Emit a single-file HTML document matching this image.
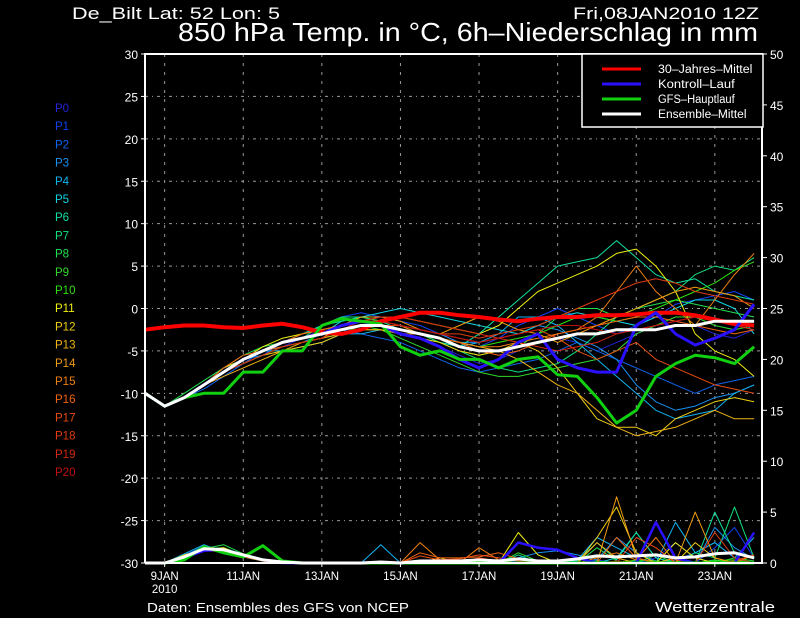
<!DOCTYPE html>
<html><head><meta charset="utf-8"><style>
html,body{margin:0;padding:0;background:#000;width:800px;height:618px;overflow:hidden}
svg{display:block}
text{font-family:"Liberation Sans",sans-serif}
</style></head><body>
<svg id="chart" width="800" height="618" viewBox="0 0 800 618" xmlns="http://www.w3.org/2000/svg">
<rect width="800" height="618" fill="#000"/>
<text x="72" y="19" font-size="17" fill="#fff" textLength="208" lengthAdjust="spacingAndGlyphs">De_Bilt   Lat: 52 Lon: 5</text>
<text x="573" y="19" font-size="17" fill="#fff" textLength="186" lengthAdjust="spacingAndGlyphs">Fri,08JAN2010 12Z</text>
<text x="178" y="41" font-size="26" fill="#fff" textLength="580" lengthAdjust="spacingAndGlyphs">850 hPa Temp. in °C, 6h–Niederschlag in mm</text>
<text x="147" y="612" font-size="13" fill="#fff" textLength="262" lengthAdjust="spacingAndGlyphs">Daten: Ensembles des GFS von NCEP</text>
<text x="655" y="612" font-size="15" fill="#fff" textLength="120" lengthAdjust="spacingAndGlyphs">Wetterzentrale</text>
<g id="grid"></g><g id="prec"></g><g id="temps"></g><g id="axes"></g><g id="legend"></g>
</svg>
<script>
const dayLabels=["9JAN","11JAN","13JAN","15JAN","17JAN","19JAN","21JAN","23JAN"];
const tempTicks=[-30,-25,-20,-15,-10,-5,0,5,10,15,20,25,30];
const precTicks=[0,5,10,15,20,25,30,35,40,45,50];
const memberNames=["P0","P1","P2","P3","P4","P5","P6","P7","P8","P9","P10","P11","P12","P13","P14","P15","P16","P17","P18","P19","P20"];
const memberColors=["#2222d8","#1040f0","#1064ec","#1890f0","#10b4f0","#10d4e0","#10e0a0","#10e080","#20e050","#30d830","#30e010","#f0f010","#f0d010","#f0b414","#f09c10","#f08010","#f06410","#e84c10","#e03c10","#d42810","#c01010"];
const climate=[-2.5,-2.2,-2,-2,-2.2,-2.3,-2,-1.8,-2.2,-2.8,-3,-2.5,-1.5,-1,-0.5,-0.5,-0.8,-1,-1.3,-1.5,-1.2,-1,-1,-0.8,-0.8,-0.7,-0.5,-0.5,-0.8,-1.3,-1.8,-2];
const control=[-10,-11.5,-10.5,-9,-7.5,-6,-5,-4,-3.5,-3,-2,-1.5,-2,-3,-3.5,-4.5,-6,-7,-6,-4,-3,-6,-7,-7.5,-7.5,-2,-0.5,-3,-4.3,-3.5,-2.5,0.5];
const mainRun=[-10,-11.5,-10.5,-10,-10,-7.5,-7.5,-5,-5,-2,-1.2,-1.5,-1.8,-4.5,-5.5,-5,-6,-6,-7,-6,-5.7,-7.8,-8,-10.5,-13.5,-12,-8,-6.5,-5.5,-5.8,-6.5,-4.5];
const ensMean=[-10,-11.5,-10.5,-9,-7.5,-6,-5,-4,-3.5,-3,-2.5,-2,-2,-2.5,-3,-3.5,-4.5,-5,-5,-4.5,-4,-3.5,-3,-3,-2.5,-2.5,-2.5,-2,-2,-1.5,-1.5,-1.5];
const members=[
[-10,-11.5,-10.5,-9,-7,-6,-5,-4.5,-3.5,-2.5,-2,-1.5,-2,-3,-3.5,-4.5,-5.5,-6.5,-6,-5,-4,-3.5,-4,-5,-4,-3,-2,-1.5,-2,-3,-3.5,-2.5],
[-10,-11.5,-10.5,-9,-7.5,-6.5,-5.5,-4,-3,-2,-1,-0.5,-1,-1.5,-2,-3,-4,-4.5,-3.5,-2,-1,0,-1,-2,-3,-2,-1,0.5,1,1.5,2,1],
[-10,-11.5,-10.5,-9.5,-8,-6.5,-5,-4,-3.5,-3,-2.5,-3,-3.5,-4,-5,-6,-7,-7.5,-7,-6.5,-6,-5,-4,-5,-6,-7,-8,-9,-10,-9,-8.5,-8],
[-10,-11.5,-10.5,-9,-7.5,-6,-5.5,-4.5,-4,-3,-2,-1.5,-1.5,-2,-2.5,-3,-4,-4,-3.5,-3,-2,-2.5,-3.5,-4.5,-6,-9,-11,-12,-11.5,-10.5,-10,-9],
[-10,-11.5,-10.5,-9,-7.5,-6,-5,-5,-4.5,-4,-3,-3,-2.5,-3,-3.5,-4,-4.5,-4,-3,-1,-1,-2,-4,-6,-8,-10,-12,-13,-12.5,-12,-10,-9],
[-10,-11.5,-10.5,-9,-7,-6,-5,-4,-3.5,-3,-1.5,-1,-0.5,0,-0.5,-1,-1.5,-2,-2.5,-3,-2,-1,-0.5,-1,-1.5,-2,-1,0,1,1,0,-3],
[-10,-11.5,-10.5,-9,-7.5,-6,-5,-4,-3,-2,-1.5,-1,-1.5,-2.5,-3,-4,-4.5,-3,-1,1,3,5,5.5,6,8,6,4,3,3.5,2,1.5,1],
[-10,-11.5,-10.5,-9,-7,-6,-5,-4,-3.5,-2,-1,-1,-1.5,-2,-3,-4,-5,-6,-7,-7.5,-7,-6.5,-5,-3,-1,0,1,2,4,5,4.5,6],
[-10,-11.5,-10,-8.5,-7,-5.5,-4.5,-4,-3,-2.5,-2,-1,-1.5,-2,-3,-4,-5,-5.5,-5,-4.5,-3,-1,0,0,-1,0,0.5,1,0.5,0,-0.5,-1],
[-10,-11.5,-10.5,-9,-7.5,-6.5,-5.5,-4.5,-4,-3.5,-3,-2,-2.5,-3.5,-4.5,-5.5,-6.5,-7.5,-8,-8,-7.5,-7,-6.5,-6,-5,-3,-2,-1,-1,-2,-2.5,-2],
[-10,-11.5,-10.5,-9,-7.5,-6,-5,-4,-3.5,-3,-2.5,-2,-2,-2.5,-3,-3.5,-4,-4.5,-4,-3.5,-3,-2,-1,-1,-1.5,-1,0,1,2,3,4.5,5.5],
[-10,-11.5,-10.5,-9,-7,-6,-4.5,-3.5,-3,-2.5,-2,-1.5,-1,-1,-1.5,-2,-2.5,-3,-2,0,2,3,4,5,6.5,7,5,2,-3,-5,-6,-8],
[-10,-11.5,-10.5,-9,-7.5,-6.5,-5.5,-5,-4.5,-4,-3,-2.5,-2.5,-3,-3.5,-4,-5,-5.5,-5,-4,-5,-7,-10,-13,-14,-14,-15,-13,-12,-11,-10.5,-11],
[-10,-11.5,-10.5,-9,-8,-7,-6,-5,-4,-3.5,-3,-2.5,-2.5,-3,-3,-3.5,-4,-4.5,-5,-6,-7.5,-9,-10,-12,-14,-15,-14.5,-14,-13,-12,-13,-13],
[-10,-11.5,-10.5,-9,-7.5,-6,-5,-4,-3,-2.5,-2,-1,-1,-1.5,-2.5,-3,-2,-1,-1.5,-2.5,-3,-4,-3,-2,-1,0,1,2,2.5,2,1.5,0],
[-10,-11.5,-10.5,-9,-7.5,-6,-5,-4.5,-4,-3.5,-2,-1.5,-1.5,-2,-3,-3.5,-4,-4.5,-4.5,-4,-3.5,-3,-2.5,-1,2,5,2,0,-2,1,4,6.5],
[-10,-11.5,-10.5,-9,-7,-5.5,-5,-4,-3,-2.5,-2,-1.5,-2,-2.5,-3,-3.5,-4,-5,-5.5,-5,-4,-3,-2.5,-2,-1.5,-1,-1,-1.5,-2,-2.5,-3,-2.5],
[-10,-11.5,-10.5,-9,-7.5,-6,-5,-4,-3.5,-3,-2,-1.5,-1.5,-2,-2.5,-3,-3.5,-4,-3.5,-3,-2.5,-3.5,-5,-6,-5,-4,-6,-7,-8,-9,-9.5,-10],
[-10,-11.5,-10.5,-9,-7.5,-6,-5,-4,-3.5,-3,-2.5,-2,-2,-2,-2.5,-3,-3,-3.5,-3,-2.5,-2,-1,0,1,2,3,3.5,3,2,1.5,1,0.5],
[-10,-11.5,-10.5,-9,-7.5,-6.5,-5.5,-4.5,-4,-3.5,-2.5,-1.5,-1,-1,-1.5,-2,-2.5,-3,-3.5,-4,-4.5,-5,-4.5,-4,-3,-2.5,-2,-1.5,-1,-1.5,-2,-2.5],
[-10,-11.5,-10.5,-9,-7.5,-6,-5,-4,-3.5,-3,-2,-1.5,-1.5,-2,-2.5,-3,-3.5,-4,-3.5,-3,-2.5,-2,-2,-2.5,-3,-2.5,-2,-1.5,-1,-1.5,-2,-1.5]];
const memberPrecip=[
[0,0,0.6,1.4,1.2,0.8,0.3,0,0,0,0,0,0,0,0,0,0,0,0,0.2,0,0,0,0,0,0,0.5,2,0.5,0,0,0],
[0,0,0.8,1.6,1.3,0.7,0.2,0.1,0,0,0,0,0,0,0,0,0,0,0,0,0,0,0,0.3,0,0.2,0,0,0,1.5,3.5,0.5],
[0,0,0.5,1.5,1.4,0.9,0.4,0.1,0,0,0,0,0,0,0,0.3,0.2,0.2,0,0,0,0,0,0,0,0,0,0.3,1,2,0.5,0],
[0,0,0.7,1.7,1.2,0.6,0.2,0,0,0,0,0,0,0,0,0,0,0,0,0.5,1,1.2,0.8,0.3,2.5,1,0.2,0,0,3.5,1.5,0.4],
[0,0,0.9,1.8,1.1,0.6,0.3,0,0,0,0,0,1.8,0,0,0,0,0,0,0,0,0,0.3,2.5,1.5,0.5,0,4,1,2,0.5,2.5],
[0,0,0.6,1.3,1.2,0.7,0.3,0,0,0,0,0,0,0,0,0,0,0,0,0,0,0,0,0,0.5,3,0.5,0,0,0,0,0],
[0,0,0.5,1.4,1.5,0.8,0.2,0,0,0,0,0,0,0,0,0,0,0,0,0.8,0,0,0.2,2,0.3,3,0.5,0,0,5,1,0.5],
[0,0,0.6,1.2,1.3,0.9,0.3,0.1,0,0,0,0,0,0,0,0,0,0,0,0,0,0,0,0,0,0,0,0,1,0.5,5.5,0.5],
[0,0,0.5,1.4,1.8,0.9,0.4,0,0,0,0,0,0,0,0,0,0,0,0,0,0,0,0,1.5,0.2,0,0.8,0,0,0.3,0,0],
[0,0,0.7,1.5,1.3,0.7,0.3,0,0,0,0,0,0,0,0,0,0,0,0,1,0.2,0,0,0,0,0,0,0,0,0,0.5,0.2],
[0,0,0.6,1.4,1.2,0.8,0.2,0,0,0,0,0,0,0,0,0,0,0,0,0,0,0,0,0.2,0,0.3,0.2,0,0,0.2,0.3,0],
[0,0,0.8,1.3,1.5,0.7,0.3,0.1,0,0,0,0,0,0,0,0,0,0,0,3,0.8,0,0,0,0,0,0,2,0.5,0,0,0],
[0,0,0.6,1.6,1.3,0.6,0.2,0,0,0,0,0,0,0,0,0,0,0,0,0,0,0,0,2.5,5.5,1,0,0,2,0.5,0,0],
[0,0,0.5,1.2,1.2,0.8,0.3,0,0,0,0,0,0,0,0,0.5,0,0,0,0,0,0,0,2,0.5,0,0,0.5,0,0,0,0],
[0,0,0.7,1.4,1.3,0.7,0.3,0,0,0,0,0,0,0,0,0,0,0,0,0,0,0,0,0,6.5,0.5,0,0,5,0.5,0,0],
[0,0,0.6,1.3,1.4,0.8,0.2,0,0,0,0,0,0,0,2,0.3,0,1.5,0.3,0,0,0,0,0.5,1,0.3,2.5,0,0,0,0,0.8],
[0,0,0.5,1.5,1.2,0.9,0.3,0.1,0,0,0,0,0,0,1,0.5,0.5,0.6,1,0.4,0,0,0,0,2.5,0.5,0,0,0,0,0,0],
[0,0,0.6,1.4,1.3,0.7,0.3,0,0,0,0,0,0,0,0.7,0.3,0.4,0.8,0.5,0.2,0,0,0,0,0,2.5,1.5,0,0,0,0.2,0.8],
[0,0,0.7,1.3,1.2,0.8,0.2,0,0,0,0,0,0,0,0,0,0,0.5,0.2,0,0,0,0,0,0,0,4,0.3,0,3,0.5,0],
[0,0,0.6,1.5,1.3,0.6,0.3,0,0,0,0,0,0,0,0,0,0,0,0,0,0,0,0,0,0,0,0,0,0,0,0,0],
[0,0,0.5,1.2,1.1,0.7,0.2,0,0,0,0,0,0,0,0,0,0,0,0,0,0,0,0,0,0.2,0,0,0,0,0,0,0]];
const controlPrecip=[0,0,0.5,1.2,1.3,0.8,0.3,0,0,0,0,0,0,0,0,0,0,0,0,2,1.5,1.3,0.5,0,0,0,4,0.5,0,0,0,3];
const mainPrecip=[0,0,0.3,1.6,1,0.6,1.7,0.2,0,0,0,0,0,0,0,0,0,0,0,0,0,0,0,0,0,0,0,0,0,0,0,0];
const meanPrecip=[0,0,0.6,1.4,1.3,0.8,0.3,0.1,0,0,0,0,0.1,0,0.2,0.2,0.2,0.3,0.2,0.4,0.2,0.2,0.4,0.7,0.6,0.7,0.8,0.5,0.6,0.9,1,0.5];

const NS="http://www.w3.org/2000/svg";
const X0=145,X1=762,YT=54,YB=563,STEP=39.3/2;
const xAt=i=>X0+i*STEP;
const yT=v=>YB-(v+30)*(YB-YT)/60;
const yP=v=>YB-v*(YB-YT)/50;
function mk(tag,attrs,parent){const e=document.createElementNS(NS,tag);for(const k in attrs)e.setAttribute(k,attrs[k]);parent.appendChild(e);return e;}
const grid=document.getElementById('grid'),axes=document.getElementById('axes'),temps=document.getElementById('temps'),prec=document.getElementById('prec'),legend=document.getElementById('legend');

tempTicks.forEach(t=>{
  if(t>-30&&t<30){const l=mk('line',{x1:X0,x2:X1,y1:yT(t),y2:yT(t),stroke:'#9a9a9a','stroke-width':1,'stroke-dasharray':'3,4,1,4'},grid);
  
  }
  const tx=mk('text',{x:138,y:yT(t)+5,'font-size':12,'text-anchor':'end',fill:'#fff'},axes);tx.textContent=String(t);
  
  
  mk('line',{x1:X0-4,x2:X0,y1:yT(t),y2:yT(t),stroke:'#fff'},axes);
});
precTicks.forEach(p=>{
  const tx=mk('text',{x:770,y:yP(p)+5,'font-size':12,fill:'#fff'},axes);tx.textContent=String(p);
  
  
  mk('line',{x1:X1,x2:X1+5,y1:yP(p),y2:yP(p),stroke:'#fff'},axes);
});
dayLabels.forEach((d,k)=>{
  const x=xAt(1+4*k);
  const l=mk('line',{x1:x,x2:x,y1:YT,y2:YB,stroke:'#9a9a9a','stroke-width':1,'stroke-dasharray':'3,6'},grid);
  
  
  mk('line',{x1:x,x2:x,y1:YB,y2:YB+4,stroke:'#fff'},axes);
  const tx=mk('text',{x:x,y:580,'font-size':11.5,'text-anchor':'middle',fill:'#fff'},axes);tx.textContent=d;
  
  
});
const yr=mk('text',{x:xAt(1),y:593,'font-size':11.5,'text-anchor':'middle',fill:'#fff'},axes);yr.textContent="2010";


const frame=mk('path',{d:`M${X0},${YB}V${YT}H${X1}V${YB}H${X0}`,fill:'none',stroke:'#fff','stroke-width':2},axes);



function pts(arr,f){return arr.map((v,i)=>xAt(i).toFixed(1)+','+f(v).toFixed(1)).join(' ');}
function line(parent,arr,f,color,w,name){const p=mk('polyline',{points:pts(arr,f),fill:'none',stroke:color,'stroke-width':w,'stroke-linejoin':'round'},parent);
  
  return p;}

members.forEach((m,i)=>{
  line(prec,memberPrecip[i],yP,memberColors[i],1,'precip-'+memberNames[i].toLowerCase());
  line(temps,m,yT,memberColors[i],1,'temp-'+memberNames[i].toLowerCase());
});
line(prec,controlPrecip,yP,'#2a10ff',2.5,'precip-control');
line(prec,mainPrecip,yP,'#10d010',3,'precip-main-run');
line(prec,meanPrecip,yP,'#fff',3,'precip-ensemble-mean');
line(temps,climate,yT,'#ff0000',4,'temp-climate-mean');
line(temps,control,yT,'#2a10ff',3,'temp-control-run');
line(temps,mainRun,yT,'#10d010',3,'temp-main-run');
line(temps,ensMean,yT,'#ffffff',3,'temp-ensemble-mean');

memberNames.forEach((n,i)=>{
  const tx=mk('text',{x:55,y:112+i*18.2,'font-size':11.5},legend);tx.textContent=n;
  tx.style.fill=memberColors[i];
  
  
});
const box=mk('rect',{x:582,y:54,width:181,height:73,fill:'#000',stroke:'#fff','stroke-width':1.5},legend);


const legNames=["30–Jahres–Mittel","Kontroll–Lauf","GFS–Hauptlauf","Ensemble–Mittel"];
const legColors=["#ff0000","#2a10ff","#10d010","#ffffff"];
legNames.forEach((n,i)=>{
  const y=69+i*15;
  mk('line',{x1:602,x2:641,y1:y,y2:y,stroke:legColors[i],'stroke-width':3},legend);
  const tx=mk('text',{x:658,y:y+4,'font-size':11.5,fill:'#fff',textLength:n.length*5.9,lengthAdjust:'spacingAndGlyphs'},legend);tx.textContent=n;
  
  
});
</script>
</body></html>
